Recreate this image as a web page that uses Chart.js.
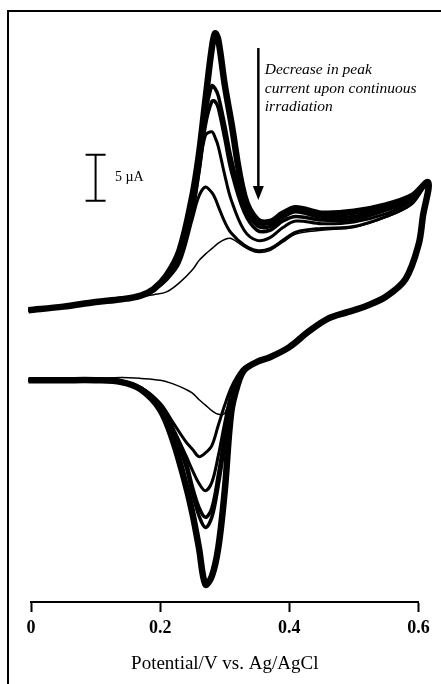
<!DOCTYPE html>
<html>
<head>
<meta charset="utf-8">
<title>Voltametria ciclica</title>
<script src="https://cdn.jsdelivr.net/npm/chart.js@4.4.0/dist/chart.umd.min.js"></script>
<style>
  body { margin: 0; background: #fff; }
  #wrap { width: 441px; height: 684px; }
</style>
</head>
<body>
<div id="wrap"><canvas id="cvChart" width="441" height="684"></canvas></div>
<script>
/** Potenciales (V vs. Ag/AgCl): barrido de ida y de vuelta */
const fwdV = [-0.004, 0.05, 0.10, 0.14, 0.17, 0.19, 0.21, 0.23, 0.25, 0.26, 0.27, 0.28, 0.285, 0.29, 0.30, 0.31, 0.33, 0.35, 0.37, 0.39, 0.41, 0.45, 0.50, 0.55, 0.59, 0.615]
const revV = [0.607, 0.60, 0.58, 0.55, 0.52, 0.49, 0.46, 0.43, 0.40, 0.37, 0.35, 0.33, 0.32, 0.31, 0.30, 0.29, 0.28, 0.27, 0.26, 0.25, 0.24, 0.22, 0.20, 0.17, 0.14, 0.10, 0.05, -0.004]

/** Corriente (uA), barrido de ida, un arreglo por ciclo */
const scan1Fwd = [3.8, 4.2, 4.7, 5.0, 5.4, 6.1, 7.6, 10.3, 16.3, 20.7, 26.6, 32.3, 33.9, 33.2, 28.3, 24.3, 16.3, 13.6, 13.4, 14.3, 14.9, 14.3, 14.5, 15.2, 16.2, 17.7]
const scan2Fwd = [3.8, 4.2, 4.7, 5.0, 5.4, 6.1, 7.4, 9.9, 15.2, 19.6, 25.0, 28.2, 27.9, 27.1, 23.9, 20.3, 15.2, 13.0, 12.9, 13.9, 14.5, 13.9, 14.0, 14.9, 16.0, 17.7]
const scan3Fwd = [3.8, 4.2, 4.7, 5.0, 5.4, 6.1, 7.3, 9.7, 14.7, 18.8, 23.9, 26.5, 26.5, 25.8, 22.5, 19.0, 14.5, 12.5, 12.5, 13.5, 14.0, 13.6, 13.7, 14.7, 15.9, 17.7]
const scan4Fwd = [3.8, 4.2, 4.7, 5.0, 5.4, 6.1, 7.2, 9.5, 14.5, 18.8, 22.8, 23.2, 22.6, 21.6, 18.5, 15.8, 12.5, 11.4, 11.7, 12.8, 13.5, 13.2, 13.4, 14.3, 15.7, 17.7]
const scan5Fwd = [3.8, 4.2, 4.7, 5.0, 5.4, 6.0, 7.1, 9.0, 13.8, 16.2, 17.2, 16.6, 16.0, 15.1, 13.4, 12.2, 10.9, 10.3, 10.5, 11.4, 12.3, 12.7, 12.9, 14.0, 15.4, 17.7]
const scan6Fwd = [3.8, 4.2, 4.7, 5.0, 5.3, 5.5, 5.8, 6.8, 8.2, 9.2, 9.9, 10.5, 10.8, 11.1, 11.5, 11.6, 10.7, 10.1, 10.3, 11.2, 12.1, 12.5, 12.8, 13.9, 15.3, 17.7]

/** Corriente (uA), barrido de vuelta: tramo comun (0.607 a 0.35 V) y tramo de cada ciclo */
const revTop = [14.1, 10.9, 7.2, 5.3, 4.3, 3.6, 2.9, 1.5, -0.2, -1.3, -1.8]
const scan1Rev = [-2.7, -4.3, -7.3, -15.8, -22.0, -25.1, -26.0, -22.0, -18.3, -15.3, -10.4, -7.0, -4.8, -4.0, -3.8, -3.8, -3.8]
const scan2Rev = [-2.6, -3.9, -6.2, -10.7, -15.2, -18.7, -19.8, -18.5, -16.1, -13.2, -9.5, -6.6, -4.7, -3.9, -3.8, -3.8, -3.8]
const scan3Rev = [-2.6, -3.8, -5.9, -9.8, -14.1, -17.7, -18.7, -17.6, -15.4, -12.7, -9.2, -6.5, -4.7, -3.9, -3.8, -3.8, -3.8]
const scan4Rev = [-2.5, -3.6, -5.3, -8.4, -12.0, -14.9, -15.8, -15.0, -13.6, -12.0, -9.0, -6.4, -4.6, -3.9, -3.8, -3.8, -3.8]
const scan5Rev = [-2.4, -3.3, -4.6, -6.5, -8.7, -10.9, -11.7, -12.1, -11.3, -10.5, -8.4, -6.3, -4.6, -3.9, -3.8, -3.8, -3.8]
const scan6Rev = [-2.5, -3.3, -5.1, -7.4, -7.5, -7.1, -6.5, -5.9, -5.2, -4.8, -4.2, -3.8, -3.6, -3.5, -3.6, -3.7, -3.8]

const xTicks = [0, 0.2, 0.4, 0.6]
const serif = "'Liberation Serif', 'Times New Roman', serif"

/** Armamos cada ciclo como un lazo cerrado ida + vuelta */
function loop(fwd, rev) {
  let pts = []
  for (let i = 0; i < fwdV.length; i++) pts.push({x: fwdV[i], y: fwd[i]})
  let full = revTop.concat(rev)
  for (let i = 0; i < revV.length; i++) pts.push({x: revV[i], y: full[i]})
  return pts
}

function cycle(fwd, rev, width) {
  return {
    data: loop(fwd, rev),
    showLine: true,
    borderColor: '#000',
    borderWidth: width,
    pointRadius: 0,
    tension: 0.35,
    fill: false,
    clip: false
  }
}

/** Marco, barra de escala, flecha y texto */
const extras = {
  id: 'extras',
  afterDraw: function(chart) {
    const ctx = chart.ctx
    const xs = chart.scales.x
    const ys = chart.scales.y
    ctx.save()
    ctx.strokeStyle = '#000'
    ctx.fillStyle = '#000'

    // marco de la figura
    ctx.lineWidth = 2
    ctx.beginPath()
    ctx.moveTo(8, 684)
    ctx.lineTo(8, 11)
    ctx.lineTo(441, 11)
    ctx.stroke()

    // barra de 5 uA
    let bx = xs.getPixelForValue(0.10)
    let b1 = ys.getPixelForValue(20.7)
    let b2 = ys.getPixelForValue(15.7)
    ctx.lineWidth = 2
    ctx.beginPath()
    ctx.moveTo(bx, b1); ctx.lineTo(bx, b2)
    ctx.moveTo(bx - 10, b1); ctx.lineTo(bx + 10, b1)
    ctx.moveTo(bx - 10, b2); ctx.lineTo(bx + 10, b2)
    ctx.stroke()
    ctx.font = '14px ' + serif
    ctx.textAlign = 'left'
    ctx.textBaseline = 'middle'
    ctx.fillText('5 \u00b5A', xs.getPixelForValue(0.13), (b1 + b2) / 2)

    // flecha
    let ax = xs.getPixelForValue(0.352)
    let a1 = ys.getPixelForValue(32.3)
    let a2 = ys.getPixelForValue(15.8)
    ctx.lineWidth = 2.5
    ctx.beginPath()
    ctx.moveTo(ax, a1); ctx.lineTo(ax, a2 - 10)
    ctx.stroke()
    ctx.beginPath()
    ctx.moveTo(ax - 5.5, a2 - 14); ctx.lineTo(ax + 5.5, a2 - 14); ctx.lineTo(ax, a2)
    ctx.closePath()
    ctx.fill()

    // texto
    ctx.font = 'italic 15.5px ' + serif
    ctx.textBaseline = 'alphabetic'
    let tx = xs.getPixelForValue(0.362)
    ctx.fillText('Decrease in peak', tx, 74)
    ctx.fillText('current upon continuous', tx, 93)
    ctx.fillText('irradiation', tx, 111)
    ctx.restore()
  }
}

var ctx = document.getElementById('cvChart').getContext('2d')
var cvChart = new Chart(ctx, {
  type: 'scatter',
  data: {
    datasets: [
      cycle(scan6Fwd, scan6Rev, 1.5),
      cycle(scan5Fwd, scan5Rev, 3),
      cycle(scan4Fwd, scan4Rev, 3),
      cycle(scan3Fwd, scan3Rev, 3.5),
      cycle(scan2Fwd, scan2Rev, 3.5),
      cycle(scan1Fwd, scan1Rev, 6.5)
    ]
  },
  options: {
    responsive: false,
    animation: false,
    layout: { padding: { top: 14, left: 31, right: 22.5, bottom: 0 } },
    plugins: { legend: { display: false }, tooltip: { enabled: false } },
    scales: {
      x: {
        type: 'linear',
        min: 0,
        max: 0.6,
        afterFit: function(scale) { scale.height = 82 },
        afterBuildTicks: function(scale) { scale.ticks = xTicks.map(v => ({value: v})) },
        grid: { drawOnChartArea: false, drawTicks: true, tickLength: 10, color: '#000', tickWidth: 2 },
        border: { display: true, color: '#000', width: 2 },
        ticks: {
          color: '#000',
          padding: 6,
          font: { family: serif, size: 18, weight: 'bold' },
          callback: function(v) { return v === 0 ? '0' : String(v) }
        },
        title: {
          display: true,
          text: 'Potential/V vs. Ag/AgCl',
          color: '#000',
          font: { family: serif, size: 19 },
          padding: { top: 4, bottom: 9 }
        }
      },
      y: {
        display: false,
        min: -27.9,
        max: 36
      }
    }
  },
  plugins: [extras]
})
</script>
</body>
</html>
